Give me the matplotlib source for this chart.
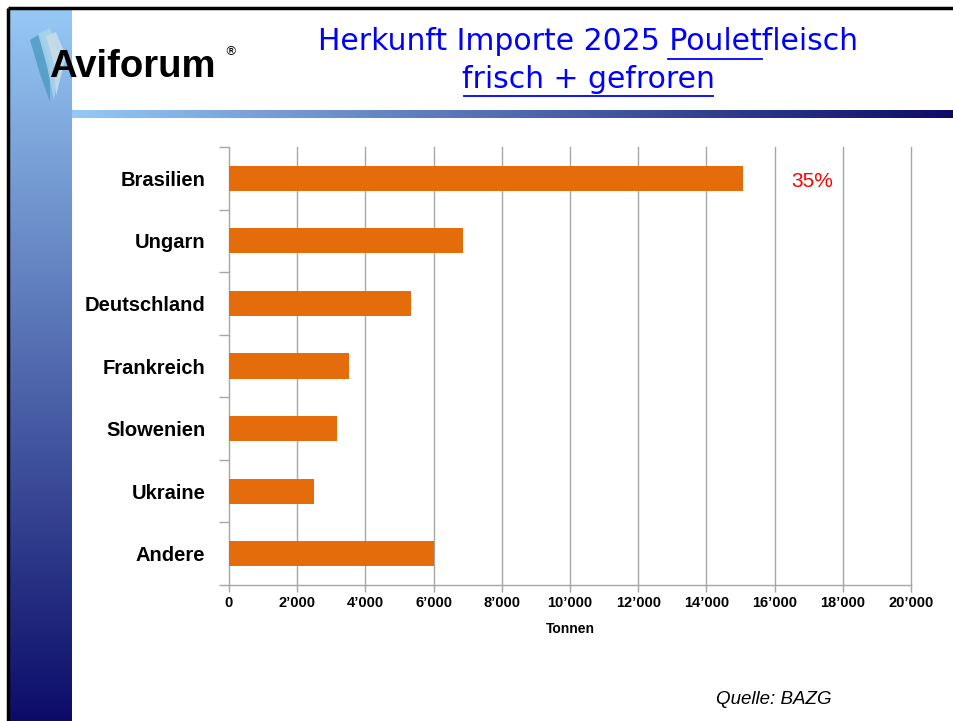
import numpy as np
import matplotlib
matplotlib.use("Agg")
import matplotlib.pyplot as plt
from matplotlib.ticker import FuncFormatter, FixedLocator
from matplotlib.patches import Polygon, Rectangle

categories = ["Brasilien", "Ungarn", "Deutschland", "Frankreich", "Slowenien", "Ukraine", "Andere"]
values = [15070, 6860, 5340, 3520, 3170, 2490, 6010]
xticks = [0, 2000, 4000, 6000, 8000, 10000, 12000, 14000, 16000, 18000, 20000]
share_label = "35%"

W, H = 954, 721
fig = plt.figure(figsize=(W / 100, H / 100), dpi=100)

def fx(px):
    return px / W

def fy(py):
    return 1 - py / H

# background overlay axes for decorations (pixel coords)
bg = fig.add_axes([0, 0, 1, 1], zorder=0)
bg.set_xlim(0, W)
bg.set_ylim(H, 0)
bg.axis("off")

light = np.array([150, 200, 245]) / 255
dark = np.array([12, 12, 104]) / 255

n = 256
t = np.linspace(0, 1, n)[:, None]
grad_v = (light[None, :] * (1 - t) + dark[None, :] * t)[:, None, :]
bg.imshow(grad_v, extent=[10, 72, H, 10], aspect="auto", zorder=1)
grad_h = (light[None, :] * (1 - t) + dark[None, :] * t)[None, :, :]
bg.imshow(grad_h, extent=[72, W, 118, 110], aspect="auto", zorder=1)
bg.add_patch(Rectangle((72, 10), W - 72, 100, facecolor="white", edgecolor="none", zorder=1))
bg.plot([8, W], [8, 8], color="black", lw=2.5, zorder=3, solid_capstyle="butt")
bg.plot([8.5, 8.5], [8, H], color="black", lw=2.5, zorder=3, solid_capstyle="butt")
bg.set_xlim(0, W)
bg.set_ylim(H, 0)

# logo feathers
feathers = [
    ([(30, 40), (40, 34), (50, 64), (50, 102), (40, 74)], "#4f9cc4"),
    ([(38, 34), (50, 28), (60, 58), (54, 100), (47, 66)], "#a9d4ea"),
    ([(46, 36), (56, 32), (66, 56), (56, 96), (54, 64)], "#c9dde8"),
]
for pts, c in feathers:
    bg.add_patch(Polygon(pts, closed=True, facecolor=c, edgecolor="none", alpha=0.85, zorder=2))
bg.text(49, 67, "Aviforum", fontsize=27.5, fontweight="bold", family="Liberation Sans",
        color="black", ha="left", va="center", zorder=4)
bg.text(231, 52, "\u00ae", fontsize=9, family="DejaVu Sans", color="black",
        ha="center", va="center", zorder=4)

# title
tfont = "DejaVu Sans"
bg.text(588, 42, "Herkunft Importe 2025 Pouletfleisch", fontsize=21.5, family=tfont,
        color="#0000ff", ha="center", va="center", zorder=4)
bg.text(588, 80, "frisch + gefroren", fontsize=21.5, family=tfont, color="#0000ff",
        ha="center", va="center", zorder=4)
bg.plot([668, 762], [59, 59], color="#0000ff", lw=1.3, zorder=4)
bg.plot([464, 713], [96, 96], color="#0000ff", lw=1.3, zorder=4)

# source
bg.text(716, 700, "Quelle: BAZG", fontsize=13.5, style="italic", family="Liberation Sans",
        color="black", ha="left", va="center", zorder=4)

# main chart
ax = fig.add_axes([fx(229), fy(585), fx(911) - fx(229), fy(147) - fy(585)], zorder=2)
ax.patch.set_alpha(0)
y = np.arange(len(categories))
ax.barh(y, values, height=0.4, color="#e46c0a", zorder=3)
ax.set_xlim(0, 20000)
ax.set_ylim(len(categories) - 0.5, -0.5)

ax.xaxis.set_major_locator(FixedLocator(xticks))
ax.xaxis.set_major_formatter(FuncFormatter(lambda v, p: f"{int(v):,}".replace(",", "\u2019")))
for xv in xticks[1:]:
    ax.axvline(xv, color="#a6a6a6", lw=1, zorder=1, clip_on=False)
ax.set_yticks(y)
ax.set_yticklabels(categories)
ax.set_yticks(np.arange(-0.5, len(categories), 1), minor=True)
ax.tick_params(axis="y", which="major", length=0, pad=17, labelsize=14.5)
ax.tick_params(axis="y", which="minor", length=7, color="#a6a6a6", width=1)
ax.tick_params(axis="x", which="major", length=5, color="#a6a6a6", width=1, labelsize=10.5, pad=3)
for lab in ax.get_yticklabels() + ax.get_xticklabels():
    lab.set_fontweight("bold")
    lab.set_family("Liberation Sans")

for s in ["top", "right"]:
    ax.spines[s].set_visible(False)
for s in ["left", "bottom"]:
    ax.spines[s].set_color("#a6a6a6")
    ax.spines[s].set_linewidth(1)

ax.set_xlabel("Tonnen", fontsize=10, fontweight="bold", family="Liberation Sans", labelpad=8.5)

ax.text(17100, 0.05, share_label, color="red", fontsize=15, family="Liberation Sans",
        ha="center", va="center")

fig.savefig("out.png", dpi=100)
